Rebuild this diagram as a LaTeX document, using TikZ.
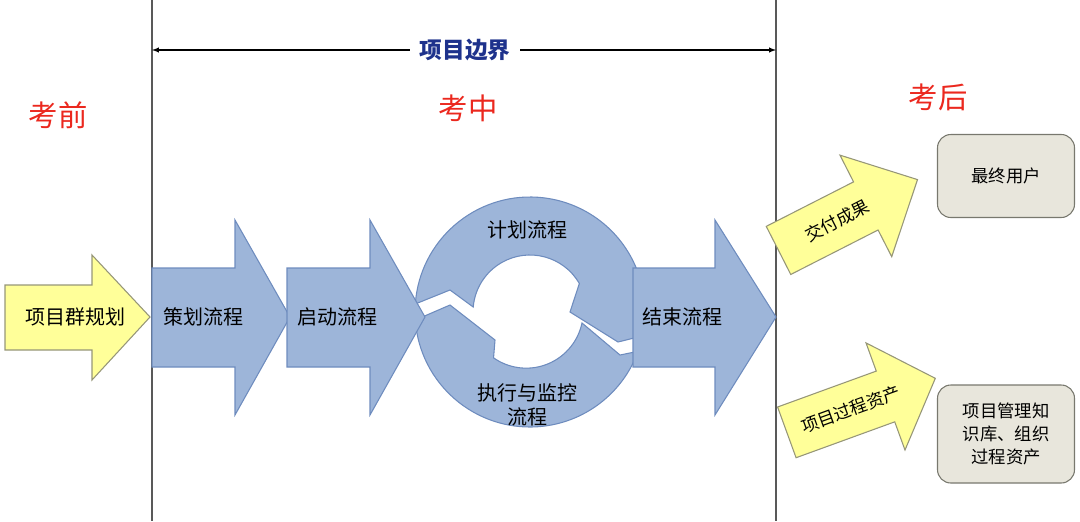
\documentclass[tikz,border=0pt]{standalone}
\usepackage{fontspec}
\setmainfont{Noto Sans CJK SC}
\begin{document}
\begin{tikzpicture}[x=0.75pt,y=-0.75pt,
  blu/.style={fill={rgb,255:red,157;green,181;blue,217},draw={rgb,255:red,110;green,140;blue,190},line width=0.8pt},
  yel/.style={fill={rgb,255:red,255;green,255;blue,153},draw={rgb,255:red,150;green,150;blue,120},line width=0.8pt},
  lbl/.style={font=\fontsize{15pt}{18pt}\selectfont,align=center},
  red/.style={font=\fontsize{22pt}{24pt}\selectfont,text={rgb,255:red,235;green,40;blue,30}},
  gbox/.style={rounded corners=10pt,fill={rgb,255:red,232;green,230;blue,220},draw={rgb,255:red,120;green,120;blue,110},line width=0.8pt,font=\fontsize{13pt}{17pt}\selectfont,align=center}]
\useasboundingbox (0,0) rectangle (1080,521);
% boundaries
\coordinate (l1) at (152,0); \coordinate (l2) at (152,521);
\coordinate (r1) at (776,0); \coordinate (r2) at (776,521);
\draw[gray!70!black,line width=0.8pt] (l1)--(l2) (r1)--(r2);
\node[font=\fontsize{17pt}{20pt}\selectfont\bfseries,text={rgb,255:red,30;green,50;blue,140}] (bd) at (465,50) {项目边界};
\coordinate (bl) at (152,50); \coordinate (br) at (776,50);
\draw[-latex,line width=0.8pt] (bd.west)+(-5,0) -- (bl);
\draw[-latex,line width=0.8pt] (bd.east)+(5,0) -- (br);
\node[red] (k1) at (58,115) {考前};
\node[red] (k2) at (468,108) {考中};
\node[red] (k3) at (938,97) {考后};
% yellow input arrow
\draw[yel] (5,285)--(92,285)--(92,255)--(150,317)--(92,380)--(92,350)--(5,350)--cycle;
\node[lbl] (a0) at (75,317) {项目群规划};
% cycle
\begin{scope}[shift={(530,312)}]
\draw[blu] (184:115) arc (184:372:115) -- (88,30) -- (40,0) -- (330:57) arc (330:185:57) -- (-80,-22) -- cycle;
\draw[blu] (176:115) arc (176:20:115) -- (90,43) -- (52,11) arc (12:125:57) -- (-35,28) -- (-80,-7) -- cycle;
\end{scope}
% blue arrows
\draw[blu] (152,268)--(235,268)--(235,220)--(290,317)--(235,415)--(235,367)--(152,367)--cycle;
\node[lbl] (a1) at (203,317) {策划流程};
\draw[blu] (287,268)--(370,268)--(370,220)--(425,317)--(370,415)--(370,367)--(287,367)--cycle;
\node[lbl] (a2) at (337,317) {启动流程};
\node[lbl] (c1) at (527,230) {计划流程};
\node[lbl] (c2) at (527,405) {执行与监控\\流程};
\draw[blu] (633,268)--(715,268)--(715,220)--(776,317)--(715,415)--(715,367)--(633,367)--cycle;
\node[lbl] (a3) at (682,317) {结束流程};
% output arrows
\begin{scope}[shift={(848,215)},rotate=27]
\draw[yel] (-78,-27)--(20,-27)--(20,-57)--(78,0)--(20,57)--(20,27)--(-78,27)--cycle;
\node[lbl,transform shape,font=\fontsize{13pt}{16pt}\selectfont] (o1) at (-12,0) {交付成果};
\end{scope}
\begin{scope}[shift={(862,405)},rotate=20]
\draw[yel] (-80,-27)--(25,-27)--(25,-57)--(78,0)--(25,57)--(25,27)--(-80,27)--cycle;
\node[lbl,transform shape,font=\fontsize{13pt}{16pt}\selectfont] (o2) at (-12,0) {项目过程资产};
\end{scope}
\node[gbox,minimum width=137*0.75pt,minimum height=83*0.75pt] (b1) at (1006,176) {最终用户};
\node[gbox,minimum width=137*0.75pt,minimum height=98*0.75pt] (b2) at (1006,434) {项目管理知\\识库、组织\\过程资产};
\end{tikzpicture}
\end{document}
